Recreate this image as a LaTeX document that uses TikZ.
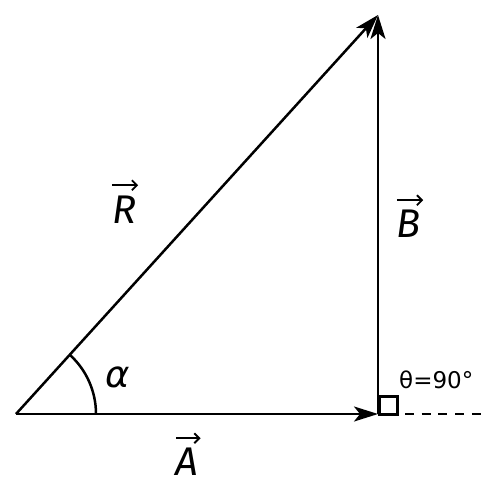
\documentclass[tikz,border=0pt]{standalone}
\usepackage{fontspec}
\setmainfont{Fira Sans}
\newfontfamily\djv{DejaVu Sans}
\usetikzlibrary{arrows.meta,calc}
\begin{document}
\begin{tikzpicture}[x=1pt,y=-1pt,
  vec/.style={line width=2.5pt,-{Stealth[length=24pt,width=15pt,inset=6pt]}},
  lblarrow/.style={line width=1.8pt,-{Straight Barb[length=5pt,width=10pt]}},
  lbl/.style={font=\fontsize{40}{44}\selectfont\itshape,inner sep=0pt},
  small/.style={font=\djv\fontsize{23}{27}\selectfont,inner sep=0pt}]
\useasboundingbox (0,0) rectangle (495,490);
\coordinate (O) at (16,414);
\coordinate (P) at (378,414);
\coordinate (Q) at (378,15);
\coordinate (D) at (405,414);
\coordinate (E) at (482,414);
\draw[vec] (O) -- (P);
\draw[vec] (P) -- (Q);
\draw[vec] (O) -- (Q);
\draw[line width=3pt] ($(P)+(1.5,0)$) rectangle ++(18,-18);
\draw[line width=2.8pt,dash pattern=on 9pt off 7.7pt] (D) -- (E);
\draw[line width=2.5pt] ($(O)+(80,0)$) arc[start angle=0,end angle=-47.8,radius=80];
\node[lbl,anchor=base] (a) at (187,475) {A};
\node[lbl,anchor=base] (b) at (409,237) {B};
\node[lbl,anchor=base] (r) at (124,223) {R};
\draw[lblarrow] ($(a.north west)+(1,-9)$) -- ($(a.north east)+(2,-9)$);
\draw[lblarrow] ($(b.north west)+(0,-9)$) -- ($(b.north east)+(2,-9)$);
\draw[lblarrow] ($(r.north west)+(0,-10)$) -- ($(r.north east)+(2,-10)$);
\node[font=\djv\fontsize{37}{42}\selectfont\itshape,inner sep=0pt,anchor=base] (al) at (118,387) {α};
\node[small,anchor=base west] (t) at (399,388) {θ=90°};
\end{tikzpicture}
\end{document}
